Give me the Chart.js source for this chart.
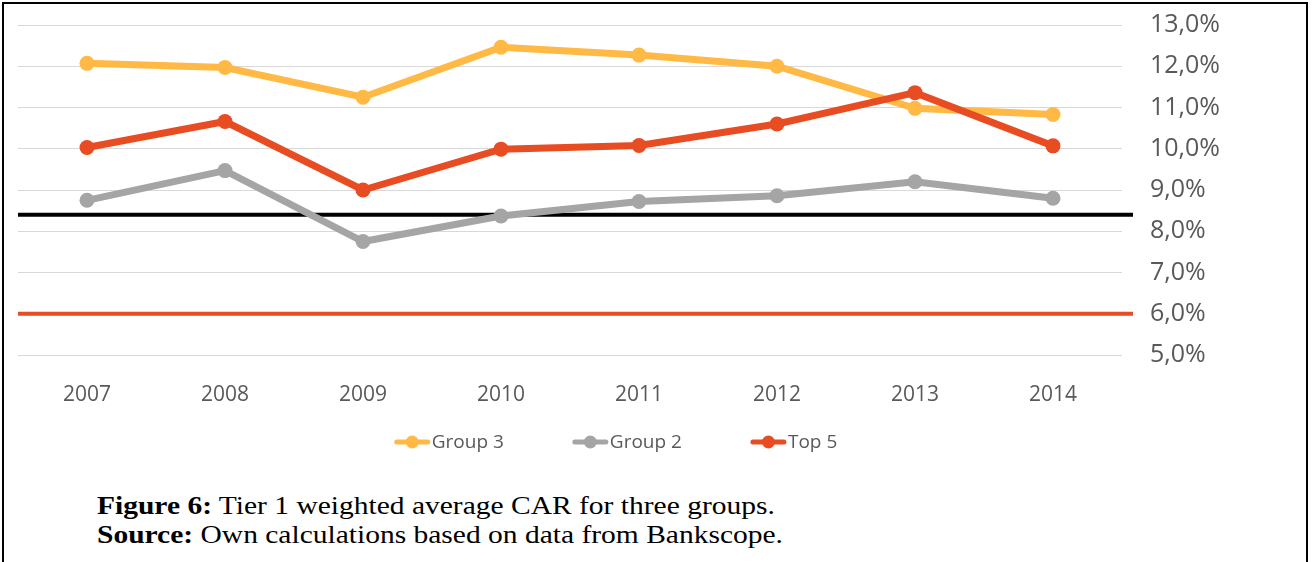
<!DOCTYPE html>
<html>
<head>
<meta charset="utf-8">
<title>Tier 1 CAR</title>
<script src="https://cdn.jsdelivr.net/npm/chart.js@4/dist/chart.umd.min.js"></script>
<style>
    html, body { margin: 0; padding: 0; background: #fff; }
    body { width: 1312px; height: 562px; position: relative; overflow: hidden; }
    .frame {
        position: absolute; left: 2px; top: 2px; width: 1306px; height: 600px;
        border: 2px solid #000; border-bottom: none; box-sizing: border-box;
    }
    .chart-box { position: absolute; left: 4px; top: 4px; width: 1236px; height: 470px; }
    .caption {
        position: absolute; left: 97px; top: 491px;
        font-family: "Liberation Serif", "Times New Roman", serif;
        font-size: 25px; line-height: 29px; color: #000;
        white-space: nowrap;
        transform: scaleX(1.18); transform-origin: 0 0;
    }
</style>
</head>
<body>
<div class="frame"></div>
<div class="chart-box"><canvas id="carChart" width="1236" height="470"></canvas></div>
<div class="caption">
    <b>Figure 6:</b> Tier 1 weighted average CAR for three groups.<br>
    <b>Source:</b> Own calculations based on data from Bankscope.
</div>

<script>
// années et ratios Tier 1 (en %)
const years = ['2007', '2008', '2009', '2010', '2011', '2012', '2013', '2014'];
const group3 = [12.07, 11.97, 11.25, 12.46, 12.27, 12.0, 10.98, 10.83];
const group2 = [8.75, 9.47, 7.75, 8.37, 8.72, 8.86, 9.2, 8.8];
const top5 = [10.03, 10.66, 9.0, 9.99, 10.08, 10.6, 11.36, 10.07];

// seuils horizontaux (en %)
const thresholdValues = [8.4, 6.0];

const colorGroup3 = '#FFB944';
const colorGroup2 = '#A5A5A5';
const colorTop5 = '#E84C22';
const thresholdColors = ['#000000', '#E84C22'];
const textGrey = '#595959';

// lignes de seuil, un peu plus longues que la zone de tracé
const thresholdLines = {
    id: 'thresholdLines',
    beforeDatasetsDraw(chart) {
        const ctx = chart.ctx;
        const area = chart.chartArea;
        const y = chart.scales.y;
        ctx.save();
        ctx.lineWidth = 4;
        thresholdValues.forEach(function(v, i) {
            const py = y.getPixelForValue(v);
            ctx.strokeStyle = thresholdColors[i];
            ctx.beginPath();
            ctx.moveTo(area.left, py);
            ctx.lineTo(area.right + 11, py);
            ctx.stroke();
        });
        ctx.restore();
    }
};

// légende dessinée à la main : trait + rond, façon Excel
const lineLegend = {
    id: 'lineLegend',
    afterDraw(chart) {
        const ctx = chart.ctx;
        const symW = 35;
        const gap = 2;
        const spacing = 69;
        const cy = 438;
        ctx.save();
        ctx.font = '19px "Open Sans"';
        ctx.textBaseline = 'middle';
        const items = chart.data.datasets.map(function(ds) {
            return { label: ds.label, color: ds.borderColor, w: ctx.measureText(ds.label).width };
        });
        let total = 0;
        items.forEach(function(it, i) {
            total += symW + gap + it.w + (i < items.length - 1 ? spacing : 0);
        });
        let x = chart.width / 2 - 6 - total / 2;
        items.forEach(function(it) {
            ctx.strokeStyle = it.color;
            ctx.lineWidth = 5;
            ctx.lineCap = 'round';
            ctx.beginPath();
            ctx.moveTo(x + 2, cy);
            ctx.lineTo(x + symW - 2, cy);
            ctx.stroke();
            ctx.fillStyle = it.color;
            ctx.beginPath();
            ctx.arc(x + symW / 2, cy, 6.5, 0, Math.PI * 2);
            ctx.fill();
            ctx.fillStyle = textGrey;
            ctx.fillText(it.label, x + symW + gap, cy + 1);
            x += symW + gap + it.w + spacing;
        });
        ctx.restore();
    }
};

function makeSeries(label, data, color, order) {
    return {
        label: label,
        data: data,
        borderColor: color,
        backgroundColor: color,
        borderWidth: 7,
        pointRadius: 7.5,
        pointBorderWidth: 0,
        pointBackgroundColor: color,
        fill: false,
        tension: 0,
        order: order
    };
}

const ctx = document.getElementById('carChart').getContext('2d');
const chartCAR = new Chart(ctx, {
    type: 'line',
    data: {
        labels: years,
        datasets: [
            makeSeries('Group 3', group3, colorGroup3, 3),
            makeSeries('Group 2', group2, colorGroup2, 2),
            makeSeries('Top 5', top5, colorTop5, 1)
        ]
    },
    options: {
        responsive: false,
        animation: false,
        layout: { padding: { left: 14, top: 21, right: 0, bottom: 60 } },
        scales: {
            x: {
                offset: true,
                grid: { display: false, drawTicks: false },
                border: { display: false },
                ticks: { color: textGrey, font: { family: 'Open Sans', size: 21 }, padding: 27 },
                afterFit: function(axis) { axis.height = 59; }
            },
            y: {
                position: 'right',
                min: 5,
                max: 13,
                grid: { color: '#D9D9D9', lineWidth: 1, drawTicks: false },
                border: { display: false },
                ticks: {
                    stepSize: 1,
                    color: textGrey,
                    font: { family: 'Open Sans', size: 25 },
                    padding: 28,
                    callback: function(v) { return v.toFixed(1).replace('.', ',') + '%'; }
                },
                afterFit: function(axis) {
                    axis.width = 118;
                    axis.paddingTop = 0;
                    axis.paddingBottom = 0;
                }
            }
        },
        plugins: {
            legend: { display: false },
            tooltip: { enabled: false }
        }
    },
    plugins: [thresholdLines, lineLegend]
});
</script>
</body>
</html>
